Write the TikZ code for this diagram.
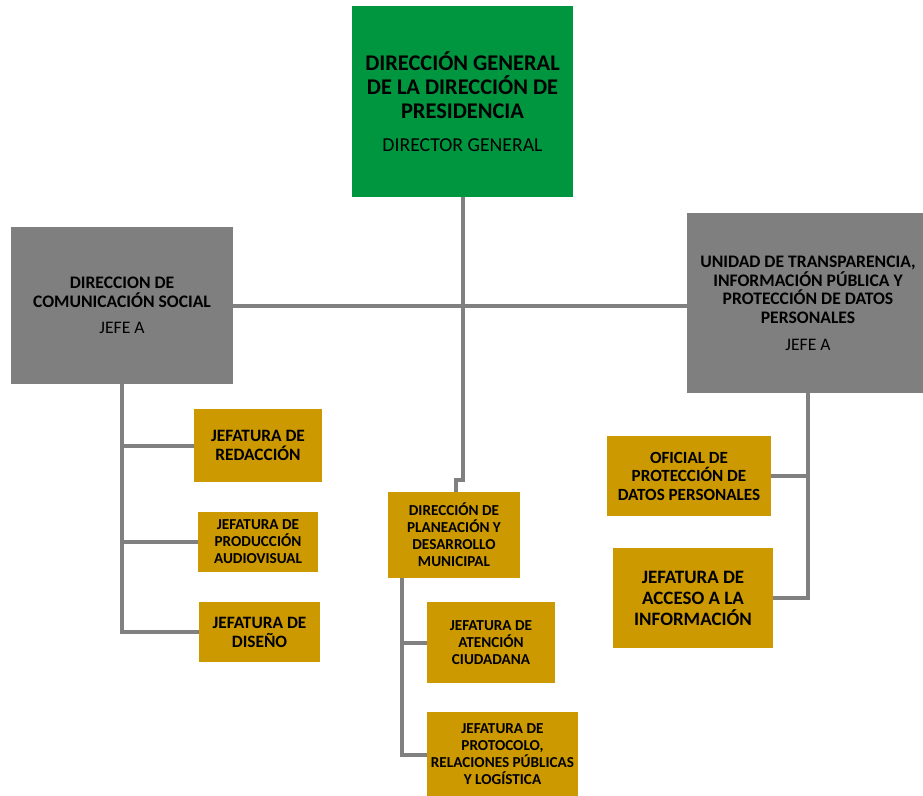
\documentclass[tikz,border=0pt]{standalone}
\usepackage{fontspec}
\setmainfont{Carlito}
\definecolor{topgreen}{RGB}{0,150,64}
\definecolor{unitgray}{RGB}{127,127,127}
\definecolor{gold}{RGB}{204,153,0}
\definecolor{linegray}{RGB}{128,128,128}
\begin{document}
\begin{tikzpicture}[x=0.75pt,y=-0.75pt,
  unit/.style={inner sep=0pt, align=center, text=black},
  sz/.style 2 args={minimum width=#1*0.75pt, minimum height=#2*0.75pt},
  head/.style={unit, fill=topgreen},
  area/.style={unit, fill=unitgray, font=\bfseries\fontsize{13.2}{14}\selectfont},
  office/.style={unit, fill=gold, font=\bfseries\fontsize{11.4}{12.75}\selectfont},
  link/.style={draw=linegray, line width=3pt}]
\useasboundingbox (0,0) rectangle (923,795);

% top of the structure
\node[head, sz={221}{191}, font=\bfseries\fontsize{16.8}{18}\selectfont] (dg) at (462.5,101.5)
  {DIRECCIÓN GENERAL\\DE LA DIRECCIÓN DE\\PRESIDENCIA\\[7pt]\mdseries\fontsize{14.8}{16}\selectfont DIRECTOR GENERAL};

% second level
\node[area, sz={222}{157}] (cs) at (122,305.5)
  {DIRECCION DE\\COMUNICACIÓN SOCIAL\\[6pt]\mdseries JEFE A};
\node[area, sz={242}{180}] (ut) at (808,303)
  {UNIDAD DE TRANSPARENCIA,\\INFORMACIÓN PÚBLICA Y\\PROTECCIÓN DE DATOS\\PERSONALES\\[6pt]\mdseries JEFE A};
\node[office, sz={132}{86}] (pl) at (454,535)
  {DIRECCIÓN DE\\PLANEACIÓN Y\\DESARROLLO\\MUNICIPAL};

% offices under Comunicación Social
\node[office, sz={128}{73}, font=\bfseries\fontsize{13}{14.25}\selectfont] (red) at (258,445.5)
  {JEFATURA DE\\REDACCIÓN};
\node[office, sz={120}{60}] (aud) at (258,542)
  {JEFATURA DE\\PRODUCCIÓN\\AUDIOVISUAL};
\node[office, sz={121}{60}, font=\bfseries\fontsize{13}{14.25}\selectfont] (dis) at (259.5,632)
  {JEFATURA DE\\DISEÑO};

% offices under Planeación
\node[office, sz={128}{81}] (at) at (491,642.5)
  {JEFATURA DE\\ATENCIÓN\\CIUDADANA};
\node[office, sz={151}{85}] (pr) at (502.5,754.5)
  {JEFATURA DE\\PROTOCOLO,\\RELACIONES PÚBLICAS\\Y LOGÍSTICA};

% offices under Transparencia
\node[office, sz={164}{80}, font=\bfseries\fontsize{12.8}{13.9}\selectfont] (of) at (689,476)
  {OFICIAL DE\\PROTECCIÓN DE\\DATOS PERSONALES};
\node[office, sz={160}{100}, font=\bfseries\fontsize{14.2}{15.75}\selectfont] (ac) at (693,598)
  {JEFATURA DE\\ACCESO A LA\\INFORMACIÓN};

% connectors
\coordinate (jog) at (456,480);
\draw[link] (dg.south) |- (jog) -- (jog |- pl.north);
\draw[link] (cs.east) -- (cs.east -| ut.west);

\draw[link] (cs.south) |- (dis.west);
\draw[link] (red.west) -- (red.west -| cs.south);
\draw[link] (aud.west) -- (aud.west -| cs.south);

\draw[link] (ut.south) |- (ac.east);
\draw[link] (of.east) -- (of.east -| ut.south);

\coordinate (plb) at ([xshift=10.5pt]pl.south west);
\draw[link] (plb) |- (pr.west);
\draw[link] (at.west) -- (at.west -| plb);
\end{tikzpicture}
\end{document}
